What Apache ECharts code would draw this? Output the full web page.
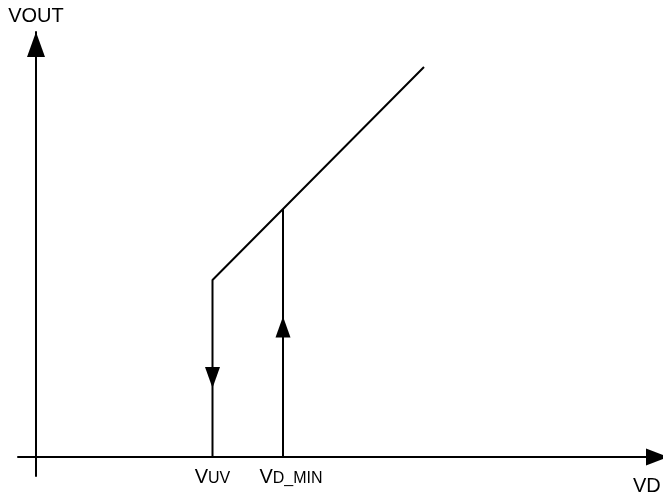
<!DOCTYPE html>
<html><head><meta charset="utf-8">
<script src="https://cdn.jsdelivr.net/npm/echarts@6/dist/echarts.min.js"></script>
<style>html,body{margin:0;padding:0;background:#fff}#c{width:663px;height:496px}</style>
</head><body><div id="c"></div>
<script>
// characteristic values (arbitrary units)
const vUV = 1.765;
const vDMin = 2.47;
// VOUT curve: drops at VUV, then rises linearly
const curveVD   = [vUV, vUV, 3.88];
const curveVOUT = [0, 1.77, 3.90];
// rising branch at VD_MIN
const riseVD   = [vDMin, vDMin];
const riseVOUT = [0, 2.48];
// direction arrows on the vertical branches
const arrowVD   = [vUV, vDMin];
const arrowVOUT = [0.795, 1.30];
const arrowRot  = [180, 0];
// tick labels
const tickValues = [vUV, vDMin];
const tickMain = ['V', 'V'];
const tickSub  = ['UV', 'D_MIN'];
const xName = 'VD';
const yName = 'VOUT';

const FONT = 'Liberation Sans';
const labelStyle = ['m', 'mp'];   // second label sits a little right of its line
const chart = echarts.init(document.getElementById('c'), null, {renderer: 'canvas'});
const zip = (a, b) => a.map((v, i) => [v, b[i]]);

chart.setOption({
  animation: false,
  backgroundColor: '#ffffff',
  textStyle: {fontFamily: FONT},
  grid: {left: 18, right: -5, top: 32, bottom: 20, containLabel: false, outerBoundsMode: 'none'},
  xAxis: {
    type: 'value', min: -0.18, max: 6.32,
    name: xName, nameLocation: 'end', nameGap: -35,
    nameTextStyle: {fontFamily: FONT, fontSize: 20, color: '#000', align: 'left', verticalAlign: 'top', padding: [19, 0, 0, 0]},
    axisLine: {onZero: true, lineStyle: {color: '#000', width: 2}, symbol: ['none', 'triangle'], symbolSize: [17, 22], symbolOffset: [0, -11]},
    axisTick: {show: false},
    splitLine: {show: false},
    axisLabel: {
      customValues: tickValues, margin: -9, color: '#000', fontFamily: FONT, fontSize: 20,
      formatter: (v) => { const i = tickValues.indexOf(v); return '{' + labelStyle[i] + '|' + tickMain[i] + '}{s|' + tickSub[i] + '}'; },
      rich: {
        m: {fontFamily: FONT, fontSize: 20, lineHeight: 20, verticalAlign: 'bottom', color: '#000'},
        mp: {fontFamily: FONT, fontSize: 20, lineHeight: 20, verticalAlign: 'bottom', color: '#000', padding: [0, 0, 0, 16]},
        s: {fontFamily: FONT, fontSize: 16, lineHeight: 17, verticalAlign: 'bottom', color: '#000'}
      }
    }
  },
  yAxis: {
    type: 'value', min: -0.19, max: 4.25,
    name: yName, nameLocation: 'end', nameGap: 6,
    nameTextStyle: {fontFamily: FONT, fontSize: 20, color: '#000'},
    axisLine: {onZero: true, lineStyle: {color: '#000', width: 2}, symbol: ['none', 'triangle'], symbolSize: [18, 25], symbolOffset: [0, -12.5]},
    axisTick: {show: false},
    splitLine: {show: false},
    axisLabel: {show: false}
  },
  series: [
    {type: 'line', data: zip(curveVD, curveVOUT), showSymbol: false, lineStyle: {color: '#000', width: 2}, silent: true},
    {type: 'line', data: zip(riseVD, riseVOUT), showSymbol: false, lineStyle: {color: '#000', width: 2}, silent: true},
    {type: 'scatter', data: arrowVD.map((v, i) => ({value: [v, arrowVOUT[i]], symbolRotate: arrowRot[i]})),
     symbol: 'triangle', symbolSize: [15, 21], itemStyle: {color: '#000', opacity: 1}, silent: true}
  ]
});
</script></body></html>
